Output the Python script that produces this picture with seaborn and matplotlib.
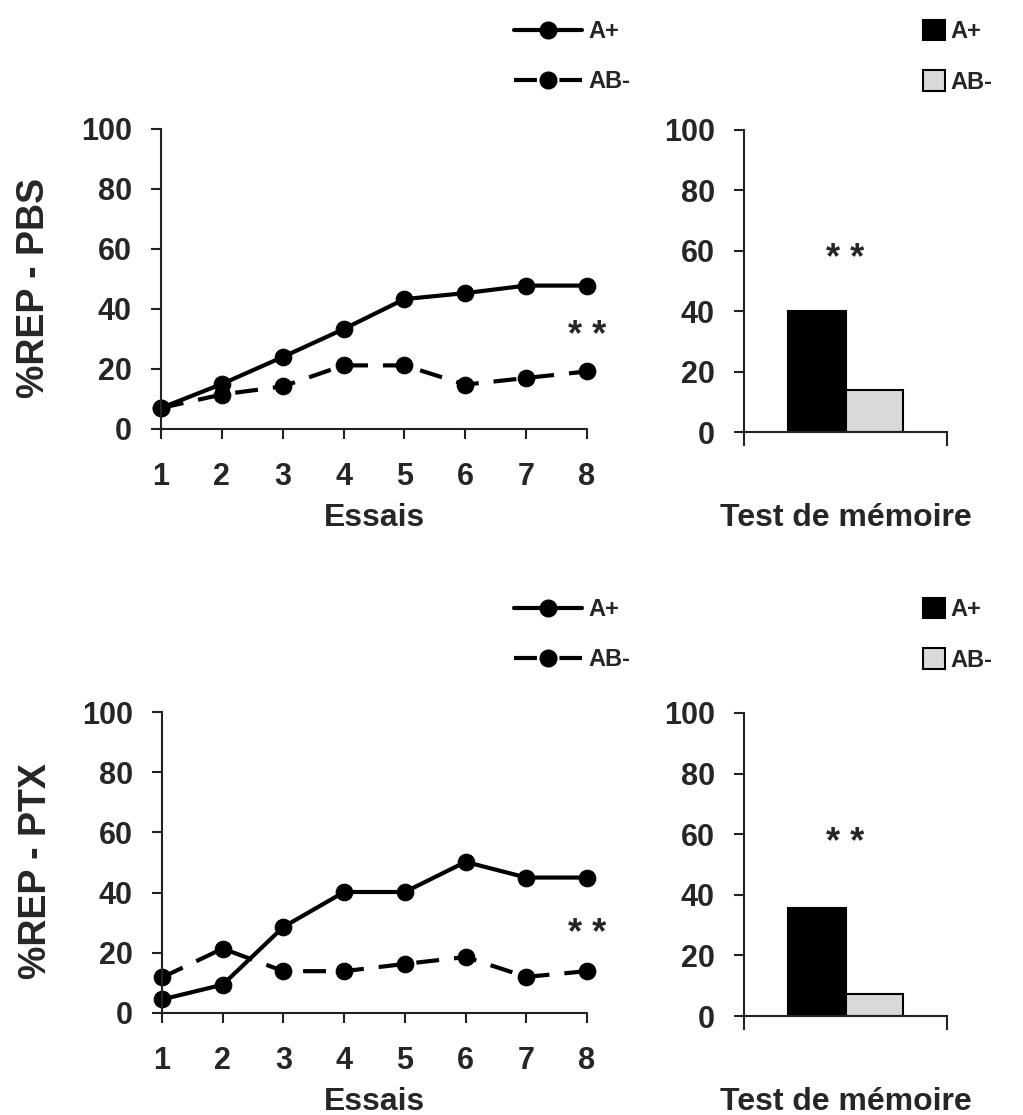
import numpy as np
import pandas as pd
import matplotlib
matplotlib.use("Agg")
import matplotlib.pyplot as plt
from matplotlib.lines import Line2D
from matplotlib.patches import Patch
import seaborn as sns

# data
essais = [1, 2, 3, 4, 5, 6, 7, 8]
pbs_a_plus = [7, 15, 24, 33.3, 43.3, 45.3, 47.8, 47.8]
pbs_ab_minus = [7, 11.5, 14.2, 21.2, 21.2, 14.8, 17, 19.2]
ptx_a_plus = [4.5, 9.4, 28.6, 40.2, 40.2, 50.2, 45, 45]
ptx_ab_minus = [11.8, 21.4, 13.9, 13.9, 16.3, 18.6, 12, 13.9]
groupes = ["A+", "AB-"]
memoire_pbs = [40, 14]
memoire_ptx = [35.5, 7.1]
yticks = [0, 20, 40, 60, 80, 100]

sns.set_theme(style="ticks")
plt.rcParams["font.family"] = ["Liberation Sans", "DejaVu Sans"]
plt.rcParams["font.weight"] = "bold"

W, H = 1023, 1115
fig = plt.figure(figsize=(W / 100, H / 100), dpi=100)


def px_axes(left, right, top, bottom):
    return fig.add_axes([left / W, 1 - bottom / H, (right - left) / W, (bottom - top) / H])


def style_axis(ax):
    sns.despine(ax=ax)
    for s in ["left", "bottom"]:
        ax.spines[s].set_linewidth(1.5)
        ax.spines[s].set_color("#222222")
    ax.set_ylim(0, 100)
    ax.set_yticks(yticks)
    ax.tick_params(axis="both", direction="out", length=7, width=1.5, color="#222222")
    ax.tick_params(axis="y", labelsize=22, pad=14)
    ax.set_ylabel("")
    for lab in ax.get_yticklabels():
        lab.set_fontweight("bold")


def line_panel(ax, a_plus, ab_minus, ylabel, star_y):
    df = pd.DataFrame({"Essais": essais * 2,
                       "val": a_plus + ab_minus,
                       "groupe": ["A+"] * 8 + ["AB-"] * 8})
    sns.lineplot(data=df[df.groupe == "A+"], x="Essais", y="val", ax=ax, color="black",
                 lw=3, marker="o", markersize=12, markeredgecolor="black", clip_on=False)
    sns.lineplot(data=df[df.groupe == "AB-"], x="Essais", y="val", ax=ax, color="black",
                 lw=3, marker="o", markersize=12, markeredgecolor="black", clip_on=False,
                 linestyle=(0, (5.5, 3.6)))
    style_axis(ax)
    ax.set_xlim(1, 8)
    ax.set_xticks(essais)
    ax.tick_params(axis="x", labelsize=22, pad=17)
    for lab in ax.get_xticklabels():
        lab.set_fontweight("bold")
    ax.set_xlabel("Essais", fontsize=23, fontweight="bold")
    ax.xaxis.set_label_coords(0.5, -0.245)
    ax.set_ylabel(ylabel, fontsize=27, fontweight="bold")
    ax.yaxis.set_label_coords(-0.255, 0.47)
    ax.text(8, star_y, "* *", ha="center", va="center", fontsize=26, fontweight="bold")


def bar_panel(ax, vals, star_y):
    df = pd.DataFrame({"test": ["Test"] * 2, "groupe": groupes, "val": vals})
    sns.barplot(data=df, x="test", y="val", hue="groupe", palette=["black", "#d9d9d9"],
                edgecolor="black", linewidth=1.5, width=0.57, ax=ax, legend=False)
    style_axis(ax)
    ax.set_xlim(-0.5, 0.5)
    ax.set_xticks([-0.5, 0.5])
    ax.set_xticklabels(["", ""])
    ax.tick_params(axis="x", length=10)
    ax.set_xlabel("Test de mémoire", fontsize=23, fontweight="bold")
    ax.xaxis.set_label_coords(0.5, -0.235)
    ax.text(0, star_y, "* *", ha="center", va="center", fontsize=26, fontweight="bold")


ax1 = px_axes(161, 587, 129, 429)
line_panel(ax1, pbs_a_plus, pbs_ab_minus, "%REP - PBS", 31)
ax2 = px_axes(744, 947, 130, 432)
bar_panel(ax2, memoire_pbs, 57)
ax3 = px_axes(162, 587, 712, 1013)
line_panel(ax3, ptx_a_plus, ptx_ab_minus, "%REP - PTX", 26)
ax4 = px_axes(744, 947, 713, 1016)
bar_panel(ax4, memoire_ptx, 57)

# legends
line_handles = [Line2D([], [], color="black", lw=3, marker="o", markersize=12),
                Line2D([], [], color="black", lw=3, marker="o", markersize=12,
                       linestyle=(0, (5.5, 5.4)))]
bar_handles = [Patch(facecolor="black", edgecolor="black", lw=1.5),
               Patch(facecolor="#d9d9d9", edgecolor="black", lw=1.5)]
for ytop in [8, 586]:
    fig.legend(line_handles, groupes, loc="upper left",
               bbox_to_anchor=(502 / W, 1 - ytop / H), frameon=False,
               handlelength=2.9, handletextpad=0.25, labelspacing=1.15, borderpad=0,
               prop={"size": 17, "weight": "bold"})
    fig.legend(bar_handles, groupes, loc="upper left",
               bbox_to_anchor=(911 / W, 1 - ytop / H), frameon=False,
               handlelength=0.95, handleheight=0.95, handletextpad=0.2, labelspacing=1.15,
               borderpad=0, prop={"size": 17, "weight": "bold"})

fig.savefig("out.png", dpi=100)
